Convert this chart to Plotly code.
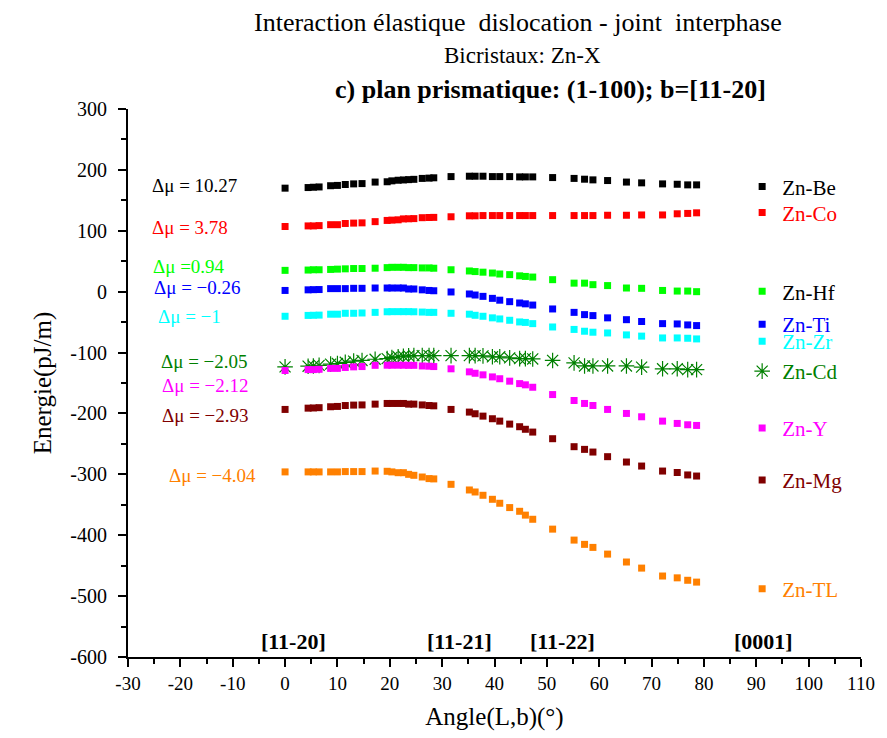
import plotly.graph_objects as go

angles = [0, 4.4, 5.4, 6.5, 8.7, 10, 11.5, 13.1, 14.7, 17.2, 19.5, 20.4, 21.6, 22.6, 23.6, 24.6,
          26.2, 27.5, 28.4, 31.7, 35.2, 36.3, 37.8, 39.6, 41.0, 42.9, 44.8, 45.9, 47.3, 51.1,
          55.2, 57.2, 58.8, 61.6, 65.2, 68.1, 72.1, 74.9, 76.9, 78.6]

zn_be = [170, 171, 171.5, 172, 174, 174.5, 176, 177, 177.5, 180, 180.5, 182, 183, 183.5, 184, 184.5,
         186, 186.5, 187, 189, 189.6, 189.6, 189.6, 189, 189, 189, 188.5, 188.5, 188.5, 187.4,
         186, 184.7, 183.6, 182.5, 180, 178.7, 177, 176.4, 175.4, 175.4]
zn_co = [107, 108, 108, 108.5, 110, 110, 112, 112.6, 113, 115, 117, 117.5, 118, 119.5, 119.7, 120,
         121.5, 121.8, 122, 123, 124.6, 124.6, 125, 125, 125, 125, 125, 125, 125, 125,
         125, 125, 125, 125.5, 125.5, 126, 126, 127.9, 128.5, 129.5]
zn_hf = [35, 35.5, 36, 36, 36.5, 37, 37.5, 38, 38, 38.5, 39.5, 40, 40, 40, 39.5, 39.5,
         39, 39, 38.5, 36, 34, 33, 32, 30.6, 29, 28, 26, 25, 24, 19.7,
         14, 14, 11.5, 10, 6, 5.5, 2, 1, 1, 0]
zn_ti = [2, 3, 3.3, 3.5, 5, 5, 5, 5.5, 5.5, 6, 6, 6, 6, 6, 4.4, 4.4,
         3, 2, 1.5, -0.5, -3.8, -5.5, -7.7, -11, -14, -16.4, -18.6, -20, -22, -28.4,
         -34, -37.7, -39.3, -43, -46, -49, -52.5, -53, -54.6, -55.7]
zn_zr = [-40.4, -39, -38.8, -38.5, -37, -37, -35.5, -35.5, -35, -34, -33, -32.8, -32.8, -32.8, -32.8, -33,
         -33.5, -34, -34, -35.5, -37, -38.8, -40.4, -43, -44.8, -47, -49.7, -50.5, -52.5, -58,
         -62, -65, -66.6, -67.8, -71, -73, -76, -76, -76.5, -77.6]
zn_cd = [-123.5, -122.4, -122, -121, -119, -118, -116, -114, -113, -111, -110, -108, -107, -106, -105.5, -105,
         -105, -105, -105, -105, -105, -105, -105.5, -107, -107, -108.7, -110, -110, -110.5, -113,
         -117, -122, -122, -122, -122, -124, -126.7, -126.7, -128, -128]
zn_y = [-129.5, -128, -128, -127.5, -126, -126, -124.5, -123.5, -123, -121, -120.8, -120.8, -120.8, -120.8, -121, -121,
        -122, -122.4, -123, -126.7, -131.7, -134, -136.6, -140, -143, -147, -151, -153, -157, -169,
        -178.7, -183.6, -186.9, -193.4, -200, -205.5, -212.6, -216.4, -218.6, -219.7]
zn_mg = [-193.4, -191.3, -191, -190.5, -189, -188.5, -187, -186.3, -186, -184.7, -183.6, -183.6, -183.6, -183.6, -184.7, -184.7,
         -186, -187, -187.5, -193.4, -197.8, -200.5, -204.4, -208.7, -212.6, -217.5, -221.8, -226, -230.6, -241.5,
         -254.6, -259, -263.4, -271, -279.8, -286.4, -294.6, -297, -301, -302.8]
zn_tl = [-296, -296, -296, -296, -296, -296, -295.5, -295.5, -295.5, -294.6, -295, -296, -297.3, -297.3, -300, -301.6,
         -304.4, -307, -307.5, -316.4, -325.7, -329, -334.4, -341, -347.5, -354.6, -360.7, -367, -373.8, -390,
         -408, -415, -420, -431, -444, -454, -467, -470, -474, -477]

series_names = ["Zn-Be", "Zn-Co", "Zn-Hf", "Zn-Ti", "Zn-Zr", "Zn-Cd", "Zn-Y", "Zn-Mg", "Zn-TL"]
series_values = [zn_be, zn_co, zn_hf, zn_ti, zn_zr, zn_cd, zn_y, zn_mg, zn_tl]
series_colors = ["#000000", "#FF0000", "#00FF00", "#0000FF", "#00FFFF", "#008000", "#FF00FF", "#800000", "#FF8000"]
legend_text_colors = ["#000000", "#FF0000", "#000000", "#0000FF", "#00FFFF", "#008000", "#FF00FF", "#800000", "#FF8000"]
legend_y_values = [172, 129.5, 0, -54, -82, -131, -224.6, -309.8, -488.5]

dmu_labels = ["Δμ = 10.27", "Δμ = 3.78", "Δμ =0.94", "Δμ = −0.26", "Δμ = −1",
              "Δμ = −2.05", "Δμ = −2.12", "Δμ = −2.93", "Δμ = −4.04"]
dmu_x = [-17.3, -18.1, -18.3, -16.8, -18.3, -15.4, -15.2, -15.2, -13.9]
dmu_y = [173.8, 104.9, 40.9, 6.6, -41, -115, -154, -203, -302]

dir_labels = ["[11-20]", "[11-21]", "[11-22]", "[0001]"]
dir_x = [1.6, 33.4, 52.9, 91.4]
dir_y = -575

x_ticks = list(range(-30, 111, 10))
y_ticks = list(range(-600, 301, 100))

XMIN, XMAX = -30, 110
YMIN, YMAX = -600, 300
FONT = "Liberation Serif"

fig = go.Figure()
for i, (name, vals, col) in enumerate(zip(series_names, series_values, series_colors)):
    if name == "Zn-Cd":
        marker = dict(symbol="asterisk-open", size=13, line=dict(color=col, width=1.2), color=col)
    else:
        marker = dict(symbol="square", size=7, color=col, line=dict(width=0))
    fig.add_trace(go.Scatter(x=angles, y=vals, mode="markers", name=name, marker=marker,
                             legend="legend" if i == 0 else f"legend{i+1}"))

layout_legends = {}
for i, (yv, tc) in enumerate(zip(legend_y_values, legend_text_colors)):
    key = "legend" if i == 0 else f"legend{i+1}"
    layout_legends[key] = dict(
        x=(87.3 - XMIN) / (XMAX - XMIN), xanchor="left",
        y=(yv - YMIN) / (YMAX - YMIN), yanchor="middle",
        bgcolor="rgba(0,0,0,0)", borderwidth=0,
        font=dict(family=FONT, size=21, color=tc),
        itemwidth=30, tracegroupgap=0,
    )
fig.update_layout(**layout_legends)

annotations = []
for txt, xv, yv, col in zip(dmu_labels, dmu_x, dmu_y, series_colors):
    annotations.append(dict(x=xv, y=yv, xref="x", yref="y", text=txt, showarrow=False,
                            font=dict(family=FONT, size=19, color=col), xanchor="center", yanchor="middle"))
for txt, xv in zip(dir_labels, dir_x):
    annotations.append(dict(x=xv, y=dir_y, xref="x", yref="y", text=f"<b>{txt}</b>", showarrow=False,
                            font=dict(family=FONT, size=22, color="black"), xanchor="center", yanchor="middle"))

title_lines = ["Interaction élastique\u00a0 dislocation - joint\u00a0 interphase",
               "Bicristaux: Zn-X",
               "<b>c) plan prismatique: (1-100); b=[11-20]</b>"]
title_sizes = [26, 23, 26]
title_x = [0.5315, 0.538, 0.576]
title_y = [1.158, 1.097, 1.036]
for txt, sz, xv, yv in zip(title_lines, title_sizes, title_x, title_y):
    annotations.append(dict(x=xv, y=yv, xref="paper", yref="paper", text=txt, showarrow=False,
                            font=dict(family=FONT, size=sz, color="black"), xanchor="center", yanchor="middle"))

fig.update_layout(
    width=887, height=738,
    margin=dict(l=128, r=19, t=109, b=80),
    paper_bgcolor="white", plot_bgcolor="white",
    showlegend=True,
    annotations=annotations,
    xaxis=dict(range=[XMIN, XMAX], tickmode="array", tickvals=x_ticks,
               ticktext=[str(v) for v in x_ticks], showgrid=False, zeroline=False,
               showline=True, linecolor="black", linewidth=2,
               ticks="outside", ticklen=8, tickwidth=2, tickcolor="black",
               minor=dict(ticks="outside", ticklen=5, tickwidth=2, tickcolor="black", dtick=5, tick0=-30),
               tickfont=dict(family=FONT, size=19, color="black"),
               title=dict(text="Angle(L,b)(°)", font=dict(family=FONT, size=25, color="black"), standoff=15)),
    yaxis=dict(range=[YMIN, YMAX], tickmode="array", tickvals=y_ticks,
               ticktext=[str(v) for v in y_ticks], showgrid=False, zeroline=False,
               showline=True, linecolor="black", linewidth=2,
               ticks="outside", ticklen=8, tickwidth=2, tickcolor="black",
               minor=dict(ticks="outside", ticklen=5, tickwidth=2, tickcolor="black", dtick=50, tick0=-600),
               tickfont=dict(family=FONT, size=20, color="black"), ticklabelstandoff=7,
               title=dict(text="Energie(pJ/m)", font=dict(family=FONT, size=25, color="black"), standoff=12)),
)

fig.write_html("out.html")
